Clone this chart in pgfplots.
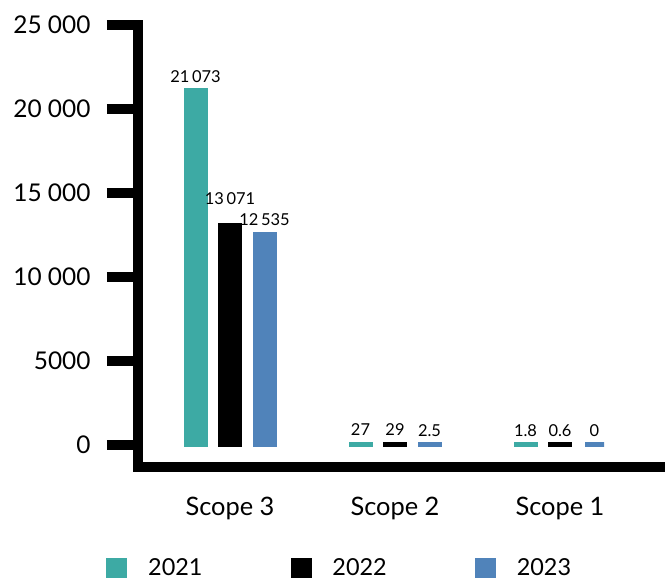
\documentclass[border=0pt]{standalone}
\usepackage{fontspec}
\setmainfont{Lato}
\usepackage{pgfplots}
\pgfplotsset{compat=1.18}
\definecolor{cteal}{RGB}{61,170,164}
\definecolor{cblue}{RGB}{80,131,186}
\begin{document}
\begin{tikzpicture}
\begin{axis}[
  at={(138bp,-467bp)}, anchor=south west,
  scale only axis, width=522bp, height=442bp,
  xmin=-0.5576, xmax=2.606, ymin=-1310, ymax=25000,
  axis lines=left,
  axis line style={-, line width=10bp, line cap=rect},
  scaled y ticks=false,
  xtick={0,1,2}, xticklabels={Scope 3,Scope 2,Scope 1},
  x tick style={draw=none},
  ytick={0,5000,10000,15000,20000,25000},
  yticklabels={0,5000,10 000,15 000,20 000,25 000},
  y tick style={line width=10bp, black, line cap=butt},
  tick align=outside, major tick length=31bp,
  yticklabel style={font=\fontsize{24.5}{29}\selectfont, xshift=-13bp},
  xticklabel style={font=\fontsize{25.5}{30}\selectfont, yshift=4bp},
  ybar=15.5bp, bar width=19bp,
  every axis plot/.append style={line width=5bp},
  nodes near coords, point meta=explicit symbolic,
  nodes near coords style={font=\fontsize{16.5}{20}\selectfont, text=black, yshift=3bp},
  clip=false,
  legend columns=3, legend cell align=left,
  legend image code/.code={\fill[#1, draw=none] (0bp,-10.5bp) rectangle (21bp,10.5bp);},
  legend style={at={(axis description cs:-0.0613,-0.2285)}, anchor=west,
    draw=none, fill=none, inner sep=0pt, font=\fontsize{23.5}{28}\selectfont,
    /tikz/every odd column/.append style={column sep=19bp},
    /tikz/every even column/.append style={column sep=86bp}},
]
\addplot[draw=cteal, fill=cteal] coordinates {(0,21073) [21\,073] (1,27) [27] (2,1.8) [1.8]};
\addplot[draw=black, fill=black,
  visualization depends on={y \as \rawy},
  every node near coord/.append style={yshift={(\rawy>1000)*12bp}}]
  coordinates {(0,13071) [13\,071] (1,29) [29] (2,0.6) [0.6]};
\addplot[draw=cblue, fill=cblue] coordinates {(0,12535) [12\,535] (1,2.5) [2.5] (2,0) [0]};
\legend{2021,2022,2023}
\end{axis}
\pgfresetboundingbox
\useasboundingbox (0,0) rectangle (667bp,-578bp);
\end{tikzpicture}
\end{document}
